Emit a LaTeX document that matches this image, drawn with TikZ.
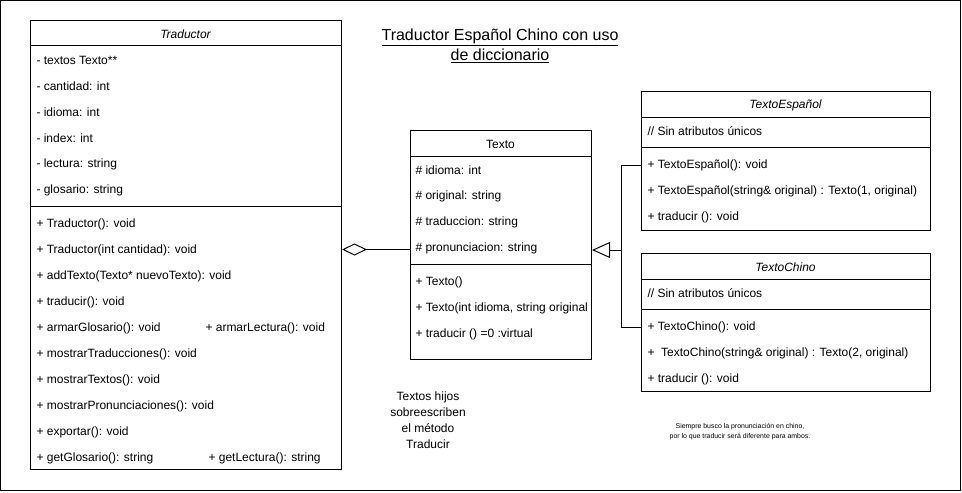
\documentclass[tikz,border=0pt]{standalone}
\usepackage{fontspec}
\setmainfont{Liberation Sans}
\usetikzlibrary{arrows.meta}
\begin{document}
\begin{tikzpicture}[x=0.75pt,y=-0.75pt,line width=0.75pt,
  classbox/.style={draw,rectangle,anchor=north west,inner sep=0pt},
  txt/.style={anchor=west,inner sep=0pt,yshift=-1.1pt,font=\fontsize{9}{11}\selectfont},
  hdr/.style={inner sep=0pt,yshift=-0.8pt,font=\fontsize{9}{11}\selectfont\itshape},
  hdrup/.style={inner sep=0pt,yshift=-0.8pt,font=\fontsize{9}{11}\selectfont},
  sep/.style={line width=0.75pt}]
\useasboundingbox (0,0) rectangle (962,492);
\draw (0.5,0.5) rectangle (960.5,490.5);

% ---------- Traductor ----------
\node[classbox,minimum width=233.25pt,minimum height=336.75pt] (trad) at (30,20) {};
\draw[sep] (30,46) -- (341,46);
\draw[sep] (30,206) -- (341,206);
\node[hdr] (tradH) at (185.5,33) {Traductor};
\node[txt] (ta1) at (36,59) {- textos Texto**};
\node[txt] (ta2) at (36,85) {- cantidad: int};
\node[txt] (ta3) at (36,111) {- idioma: int};
\node[txt] (ta4) at (36,137) {- index: int};
\node[txt] (ta5) at (36,163) {- lectura: string};
\node[txt] (ta6) at (36,189) {- glosario: string};
\node[txt] (tm1) at (36,223) {+ Traductor(): void};
\node[txt] (tm2) at (36,249) {+ Traductor(int cantidad): void};
\node[txt] (tm3) at (36,275) {+ addTexto(Texto* nuevoTexto): void};
\node[txt] (tm4) at (36,301) {+ traducir(): void};
\node[txt] (tm5) at (36,327) {+ armarGlosario(): void};
\node[txt] (tm5b) at (205,327) {+ armarLectura(): void};
\node[txt] (tm6) at (36,353) {+ mostrarTraducciones(): void};
\node[txt] (tm7) at (36,379) {+ mostrarTextos(): void};
\node[txt] (tm8) at (36,405) {+ mostrarPronunciaciones(): void};
\node[txt] (tm9) at (36,431) {+ exportar(): void};
\node[txt] (tm10) at (36,457) {+ getGlosario(): string};
\node[txt] (tm10b) at (208,457) {+ getLectura(): string};

% ---------- Texto ----------
\node[classbox,minimum width=135.75pt,minimum height=171.75pt] (texto) at (410,130) {};
\draw[sep] (410,156) -- (591,156);
\draw[sep] (410,264) -- (591,264);
\node[hdrup] (textoH) at (500.5,143) {Texto};
\node[txt] (xa1) at (415,169) {\# idioma: int};
\node[txt] (xa2) at (415,195) {\# original: string};
\node[txt] (xa3) at (415,221) {\# traduccion: string};
\node[txt] (xa4) at (415,247) {\# pronunciacion: string};
\node[txt] (xm1) at (415,281) {+ Texto()};
\node[txt] (xm2) at (415,307) {+ Texto(int idioma, string original};
\node[txt] (xm3) at (415,333) {+ traducir () =0 :virtual};

% ---------- TextoEspanol ----------
\node[classbox,minimum width=216.75pt,minimum height=104.25pt] (te) at (641,91) {};
\draw[sep] (641,117) -- (930,117);
\draw[sep] (641,147) -- (930,147);
\node[hdr] (teH) at (785.5,104) {TextoEspañol};
\node[txt] (tea1) at (647,130) {// Sin atributos únicos};
\node[txt] (tem1) at (647,164) {+ TextoEspañol(): void};
\node[txt] (tem2) at (647,190) {+ TextoEspañol(string\& original) : Texto(1, original)};
\node[txt] (tem3) at (647,216) {+ traducir (): void};

% ---------- TextoChino ----------
\node[classbox,minimum width=216.75pt,minimum height=103.5pt] (tc) at (641,253) {};
\draw[sep] (641,279) -- (930,279);
\draw[sep] (641,309) -- (930,309);
\node[hdr] (tcH) at (785.5,266) {TextoChino};
\node[txt] (tca1) at (647,292) {// Sin atributos únicos};
\node[txt] (tcm1) at (647,326) {+ TextoChino(): void};
\node[txt] (tcm2) at (647,352) {+ \ TextoChino(string\& original) : Texto(2, original)};
\node[txt] (tcm3) at (647,378) {+ traducir (): void};

% ---------- connectors ----------
\coordinate (j) at (621,250);
\draw (te.west |- tem1.west) ++(0,0) -| (j);
\draw (tc.west |- tcm1.west) -| (j);
\draw[-{Triangle[open,length=13.5pt,width=12pt,fill=white]}] (j) -- (texto.east |- j);

\coordinate (agg) at (375,249.5);
\draw[{Diamond[open,length=18.75pt,width=9pt,fill=white]}-] (trad.east |- agg) -- (texto.west |- agg);

% ---------- texts ----------
\node[inner sep=0pt,align=center,font=\fontsize{12}{15}\selectfont] (title) at (500,46)
  {\underline{Traductor Español Chino con uso}\\\underline{de diccionario}};
\node[inner sep=0pt,align=center,font=\fontsize{9}{12}\selectfont] (note1) at (428,420)
  {Textos hijos\\sobreescriben\\el método\\Traducir};
\node[inner sep=0pt,align=center,font=\fontsize{5.2}{7.5}\selectfont] (note2) at (740,432)
  {Siempre busco la pronunciación en chino,\\por lo que traducir será diferente para ambos.};
\end{tikzpicture}
\end{document}
